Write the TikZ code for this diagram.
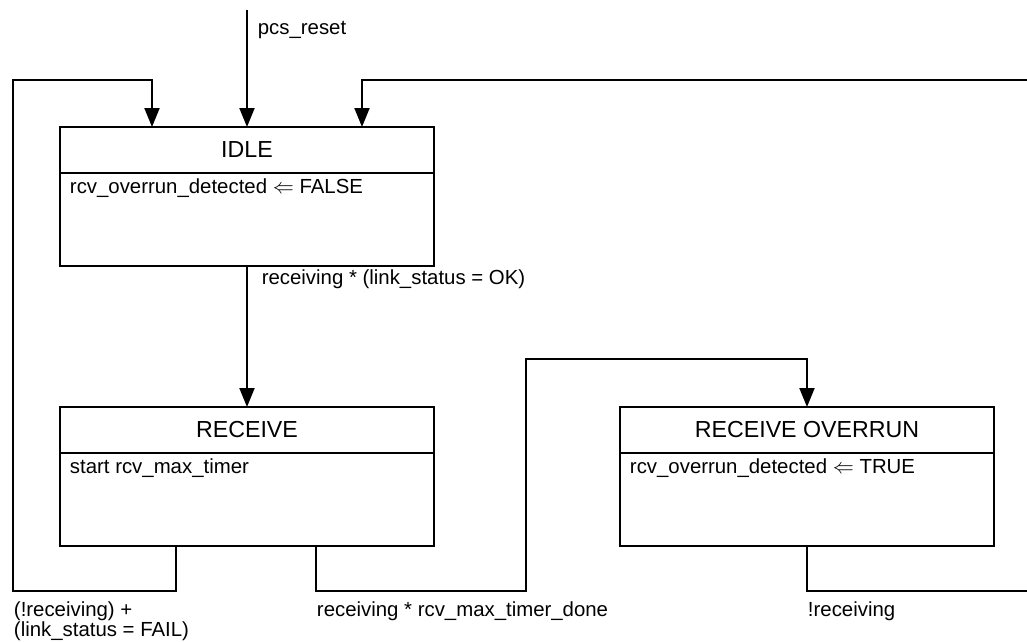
\documentclass[tikz,border=0pt]{standalone}
\usepackage{fontspec}
\setmainfont{Liberation Sans}
\usetikzlibrary{shapes,positioning,arrows.meta}

\begin{document}
\begin{tikzpicture}[font=\fontsize{11.6}{11.2}\selectfont,line width=1.1pt,
    >={Triangle[length=0.38cm,width=0.3cm]},
    statetitle/.style={draw,minimum width=7.48cm,minimum height=0.92cm,inner sep=0pt,
        outer sep=0pt,font=\fontsize{13.2}{15}\selectfont},
    statebody/.style={draw,minimum width=7.48cm,minimum height=1.86cm,inner sep=0pt,outer sep=0pt},
    action/.style={anchor=north west,inner xsep=0.18cm,inner ysep=0.1cm},
    cond/.style={anchor=north west,inner xsep=0pt,inner ysep=0.2cm,align=left}]

\clip (0,0) rectangle (20.54,-12.84);

\node[statetitle] (state1) at (4.94,-3.0) { IDLE };

\node[statebody,
    below=0pt of state1,
    label={[action]north west:rcv\_overrun\_detected $\Leftarrow$ FALSE}
] (state1b) {};

\node[statetitle,
    below=2.82cm of state1b
] (state2) { RECEIVE };

\node[statebody,
    below=0pt of state2,
    label={[action]north west:start rcv\_max\_timer}
] (state2b) {};

\node[statetitle,
    right=3.72cm of state2
] (state3) { RECEIVE OVERRUN };

\node[statebody,
    below=0pt of state3,
    label={[action]north west:rcv\_overrun\_detected $\Leftarrow$ TRUE}
] (state3b) {};

\coordinate (reset) at (4.94,-0.2);

\draw[->] (reset) -- (state1.north) node [pos=0,anchor=north west,xshift=0.08cm,yshift=-0.08cm] { pcs\_reset };

\draw[->] (state1b) -- (state2) node [pos=0,anchor=north west,xshift=0.16cm,yshift=0.06cm] { receiving * (link\_status = OK) };

\draw[->] ([xshift=2.32cm]state2b.south west) -- ++(0,-0.9)
    -| (0.26,-1.6) node [pos=0.5,cond] { (!receiving) +\\(link\_status = FAIL) }
    -| ([xshift=1.84cm]state1.north west);

\draw[->] ([xshift=5.12cm]state2b.south west) -- ++(0,-0.9)
    node [pos=1,cond] { receiving * rcv\_max\_timer\_done }
    -| (10.52,-7.18) -| (state3.north);

\draw[->] (state3b.south) -- ++(0,-0.9)
    node [pos=1,cond] { !receiving }
    -| (20.7,-1.6) -| ([xshift=-1.44cm]state1.north east);

\end{tikzpicture}
\end{document}
